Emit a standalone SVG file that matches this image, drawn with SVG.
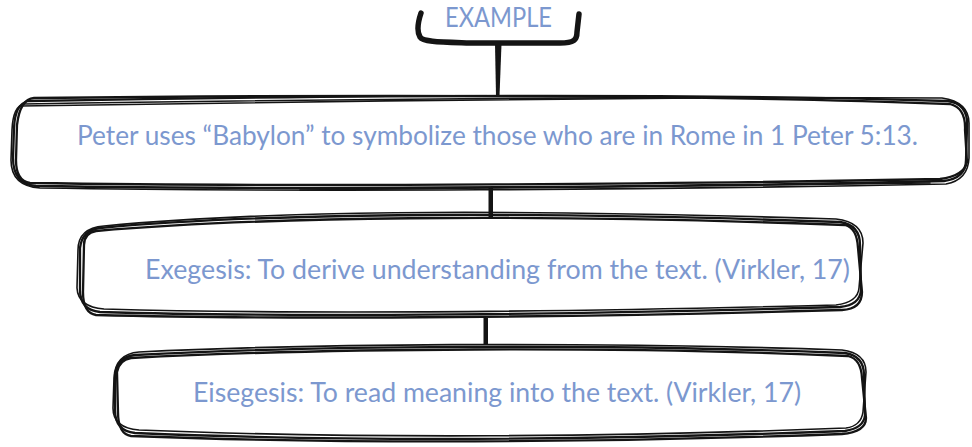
<svg xmlns="http://www.w3.org/2000/svg" width="972" height="447" viewBox="0 0 972 447">
  <style>
    .sk { fill: none; stroke: #141414; stroke-width: 2.3; stroke-linejoin: round; stroke-linecap: round; }
    .sk2 { fill: none; stroke: #141414; stroke-width: 1.6; stroke-linecap: round; }
    .lbl { font-family: Lato, "Open Sans", sans-serif; font-size: 27px; fill: #7c98cf; }
    .con { fill: none; stroke: #141414; stroke-linecap: round; stroke-linejoin: round; }
  </style>
  <rect width="972" height="447" fill="#ffffff"/>

  <!-- connectors -->
  <g id="connectors">
    <path class="con" stroke-width="5.5" d="M 421 13 C 418 22, 417 32, 420 37 C 423 42, 440 42, 470 43 L 560 43 C 574 43, 577 40, 577 32 L 579 14"/>
    <path fill="#141414" d="M 495 44 L 501.5 44 L 499.5 96 L 496 96 Z"/>
    <rect x="488.5" y="188" width="4.5" height="30" fill="#141414"/>
    <rect x="483.5" y="318" width="4.5" height="26" fill="#141414"/>
  </g>

  <!-- top label -->
  <g id="example">
    <text class="lbl" x="445" y="27" textLength="107" lengthAdjust="spacingAndGlyphs">EXAMPLE</text>
  </g>

  <!-- statement box -->
  <g id="statement">
    <path class="sk" d="M 28 101 C 250 97, 650 92, 948 101 Q 969 104, 967 128 L 966 160 Q 966 178, 944 181 C 700 187, 300 190, 36 186 Q 13 184, 13 158 L 14 128 Q 15 104, 28 101 Z"/>
    <path class="sk" d="M 34 98 C 300 95, 700 94, 950 104 Q 966 108, 965 130 L 967 162 Q 964 176, 940 179 C 700 184, 300 187, 30 183 Q 16 181, 16 160 L 17 125 Q 20 99, 34 98 Z"/>
    <path class="sk2" d="M 24 104 C 260 100, 650 96, 942 98 Q 970 102, 969 125 L 969 158 Q 968 180, 946 184 C 650 190, 300 192, 40 188 Q 11 186, 11 160 L 12 130 Q 13 106, 24 104 Z"/>
    <path class="sk2" d="M 20 106 C 200 102, 500 100, 700 98 M 300 190 C 500 186, 700 186, 930 183"/>
    <text class="lbl" x="77" y="145" textLength="841" lengthAdjust="spacingAndGlyphs">Peter uses “Babylon” to symbolize those who are in Rome in 1 Peter 5:13.</text>
  </g>

  <!-- exegesis box -->
  <g id="exegesis">
    <path class="sk" d="M 100 228 C 250 214, 500 210, 840 222 Q 860 225, 860 245 L 861 290 Q 860 305, 840 307 C 600 314, 300 318, 100 312 Q 80 310, 80 290 L 80 248 Q 82 230, 100 228 Z"/>
    <path class="sk" d="M 96 231 C 260 217, 520 213, 845 225 Q 857 228, 858 248 L 862 292 Q 862 309, 842 310 C 600 317, 300 320, 96 315 Q 83 313, 83 292 L 84 245 Q 84 233, 96 231 Z"/>
    <path class="sk2" d="M 104 226 C 260 211, 480 208, 836 219 Q 863 222, 863 243 L 859 288 Q 858 302, 836 305 C 600 311, 320 315, 104 309 Q 78 307, 77 288 L 78 250 Q 78 228, 104 226 Z"/>
    <text class="lbl" x="145" y="279" textLength="705" lengthAdjust="spacingAndGlyphs">Exegesis: To derive understanding from the text. (Virkler, 17)</text>
  </g>

  <!-- eisegesis box -->
  <g id="eisegesis">
    <path class="sk" d="M 135 355 C 300 346, 600 343, 845 353 Q 864 356, 864 375 L 865 415 Q 864 428, 845 431 C 600 440, 350 442, 135 433 Q 115 431, 115 410 L 115 375 Q 117 357, 135 355 Z"/>
    <path class="sk" d="M 131 358 C 320 348, 620 346, 848 356 Q 861 359, 862 378 L 866 418 Q 866 432, 842 434 C 600 443, 340 444, 131 436 Q 118 434, 118 412 L 117 372 Q 119 360, 131 358 Z"/>
    <path class="sk2" d="M 139 352 C 300 344, 580 341, 842 350 Q 866 353, 866 372 L 863 412 Q 861 426, 846 428 C 620 437, 360 439, 139 430 Q 113 428, 113 408 L 114 378 Q 115 354, 139 352 Z"/>
    <text class="lbl" x="193" y="402" textLength="608" lengthAdjust="spacingAndGlyphs">Eisegesis: To read meaning into the text. (Virkler, 17)</text>
  </g>
</svg>
